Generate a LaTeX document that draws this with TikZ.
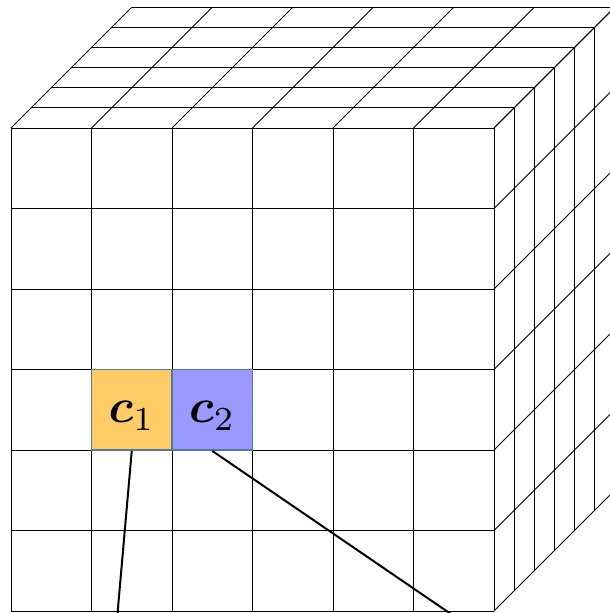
\documentclass[tikz,border=0pt]{standalone}
\usepackage{amsmath}
\usepackage{graphicx}
\usepackage{bm}
\definecolor{cellorange}{RGB}{255,204,102}
\definecolor{cellblue}{RGB}{153,153,255}
\definecolor{cellborder}{RGB}{80,120,160}
\newcommand{\celltext}[1]{\scalebox{4.8}{$#1$}}
\tikzset{
  gridline/.style={line width=1pt, black},
  cellbox/.style={draw=cellborder, line width=1.8pt, minimum width=80.5pt, minimum height=80.5pt, inner sep=0pt},
  celllabel/.style={inner sep=0pt, yshift=-6pt},
  link/.style={line width=2pt, black}
}
\begin{document}
\begin{tikzpicture}[x=1pt,y=-1pt]
\useasboundingbox (0,0) rectangle (610,613);
\clip (0,0) rectangle (610,613);
% front face
\foreach \i in {0,...,6} {
  \draw[gridline] ({11+80.5*\i},128) -- ({11+80.5*\i},611);
  \draw[gridline] (11,{128+80.5*\i}) -- (494,{128+80.5*\i});
}
% top face
\foreach \k in {0,...,6} {
  \draw[gridline] ({11+20.1*\k},{128-20.1*\k}) -- ({494+20.1*\k},{128-20.1*\k});
}
\foreach \i in {0,...,6} {
  \draw[gridline] ({11+80.5*\i},128) -- ({11+80.5*\i+120.6},{128-120.6});
}
% right face
\foreach \k in {0,...,6} {
  \draw[gridline] ({494+20.1*\k},{128-20.1*\k}) -- ({494+20.1*\k},{611-20.1*\k});
}
\foreach \j in {0,...,6} {
  \draw[gridline] (494,{128+80.5*\j}) -- ({494+120.6},{128+80.5*\j-120.6});
}
% highlighted cells
\node[cellbox, fill=cellorange] (c1) at (131.75,409.75) {};
\node[cellbox, fill=cellblue] (c2) at (212.25,409.75) {};
\node[celllabel] (l1) at (c1.center) {\celltext{\bm{c}_1}};
\node[celllabel] (l2) at (c2.center) {\celltext{\bm{c}_2}};
% connectors
\coordinate (e1) at (116.5,625);
\coordinate (e2) at (467,625);
\draw[link] (c1.south) -- (e1);
\draw[link] (c2.south) -- (e2);
\end{tikzpicture}
\end{document}
